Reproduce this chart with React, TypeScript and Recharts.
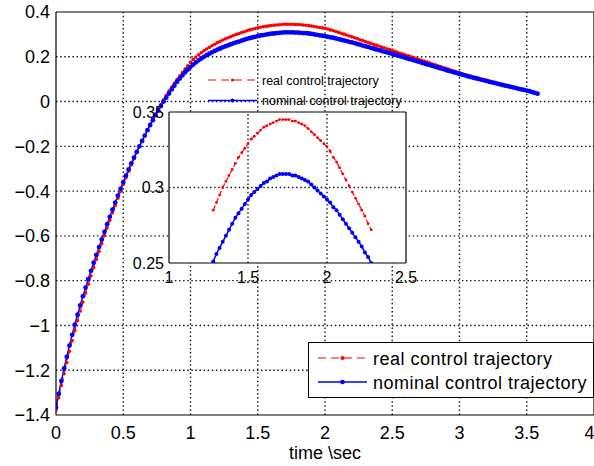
import React from 'react';
import { LineChart, Line, XAxis, YAxis, Legend, ReferenceLine } from 'recharts';

// Sampling interval of the simulated trajectories (seconds)
const SAMPLE_STEP = 0.02;

// Nominal control trajectory, one value per sample
const NOMINAL = [
  -1.366, -1.306, -1.248, -1.192, -1.14, -1.09, -1.042, -0.996, -0.952, -0.91,
  -0.87, -0.831, -0.793, -0.756, -0.72, -0.685, -0.65, -0.616, -0.582, -0.548,
  -0.515, -0.483, -0.451, -0.42, -0.39, -0.36, -0.331, -0.303, -0.276, -0.25,
  -0.225, -0.2, -0.176, -0.152, -0.128, -0.105, -0.083, -0.061, -0.04, -0.02,
  0.0, 0.018, 0.036, 0.054, 0.071, 0.088, 0.103, 0.117, 0.131, 0.143,
  0.155, 0.165, 0.175, 0.184, 0.192, 0.2, 0.207, 0.214, 0.22, 0.226,
  0.232, 0.237, 0.242, 0.247, 0.251, 0.256, 0.26, 0.264, 0.268, 0.272,
  0.276, 0.28, 0.283, 0.286, 0.289, 0.292, 0.295, 0.297, 0.299, 0.301,
  0.303, 0.304, 0.306, 0.307, 0.308, 0.309, 0.309, 0.309, 0.309, 0.308,
  0.308, 0.307, 0.306, 0.305, 0.304, 0.302, 0.3, 0.298, 0.296, 0.294,
  0.292, 0.29, 0.287, 0.285, 0.282, 0.279, 0.276, 0.273, 0.27, 0.267,
  0.264, 0.261, 0.257, 0.254, 0.25, 0.247, 0.244, 0.24, 0.237, 0.233,
  0.23, 0.227, 0.223, 0.22, 0.216, 0.213, 0.209, 0.206, 0.202, 0.199,
  0.195, 0.191, 0.188, 0.184, 0.181, 0.177, 0.173, 0.17, 0.166, 0.163,
  0.159, 0.155, 0.152, 0.148, 0.145, 0.141, 0.137, 0.134, 0.13, 0.127,
  0.123, 0.12, 0.117, 0.113, 0.11, 0.107, 0.104, 0.101, 0.098, 0.095,
  0.092, 0.089, 0.086, 0.083, 0.08, 0.077, 0.074, 0.071, 0.069, 0.066,
  0.063, 0.06, 0.057, 0.054, 0.052, 0.049, 0.046, 0.042, 0.039, 0.035,
];

// Real (applied) control trajectory, same sampling
const REAL = [
  -1.38, -1.323, -1.268, -1.216, -1.165, -1.115, -1.068, -1.023, -0.979, -0.936,
  -0.895, -0.855, -0.816, -0.778, -0.741, -0.705, -0.669, -0.634, -0.599, -0.564,
  -0.53, -0.497, -0.464, -0.432, -0.401, -0.37, -0.34, -0.311, -0.283, -0.255,
  -0.228, -0.201, -0.175, -0.15, -0.126, -0.102, -0.079, -0.056, -0.034, -0.013,
  0.008, 0.028, 0.047, 0.065, 0.082, 0.098, 0.114, 0.129, 0.145, 0.16,
  0.175, 0.188, 0.199, 0.209, 0.218, 0.227, 0.235, 0.242, 0.249, 0.256,
  0.263, 0.269, 0.275, 0.28, 0.285, 0.29, 0.295, 0.3, 0.304, 0.308,
  0.312, 0.316, 0.32, 0.323, 0.326, 0.329, 0.332, 0.334, 0.336, 0.338,
  0.34, 0.341, 0.342, 0.343, 0.344, 0.345, 0.345, 0.345, 0.345, 0.344,
  0.344, 0.343, 0.342, 0.341, 0.339, 0.337, 0.335, 0.333, 0.331, 0.329,
  0.327, 0.324, 0.32, 0.317, 0.313, 0.309, 0.305, 0.301, 0.297, 0.293,
  0.289, 0.285, 0.281, 0.276, 0.272, 0.268, 0.264, 0.26, 0.256, 0.252,
  0.248, 0.244, 0.24, 0.236, 0.232, 0.228, 0.224, 0.22, 0.216, 0.212,
  0.208, 0.204, 0.2, 0.196, 0.192, 0.188, 0.184, 0.18, 0.176, 0.172,
  0.168, 0.164, 0.16, 0.156, 0.152, 0.148, 0.144, 0.14, 0.136, 0.132,
  0.128, 0.124, 0.121, 0.117, 0.114, 0.11, 0.107, 0.104, 0.1, 0.097,
  0.094, 0.091, 0.088, 0.084, 0.081, 0.078, 0.075, 0.072, 0.069, 0.066,
  0.063, 0.06, 0.057, 0.054, 0.051, 0.048, 0.045, 0.042, 0.038, 0.035,
];

const MAIN_X_TICKS = [0, 0.5, 1, 1.5, 2, 2.5, 3, 3.5, 4];
const MAIN_Y_TICKS = [-1.4, -1.2, -1, -0.8, -0.6, -0.4, -0.2, 0, 0.2, 0.4];
const INSET_X_TICKS = [1, 1.5, 2, 2.5];
const INSET_Y_TICKS = [0.25, 0.3, 0.35];
const INSET_TIME_RANGE = [1.28, 2.28];

const REAL_LABEL = 'real control trajectory';
const NOMINAL_LABEL = 'nominal control trajectory';
const X_LABEL = 'time \\sec';

const rows = NOMINAL.map((v, i) => ({
  t: Number((i * SAMPLE_STEP).toFixed(2)),
  real: REAL[i],
  nominal: v,
}));
const insetRows = rows.filter((r) => r.t >= INSET_TIME_RANGE[0] - 1e-9 && r.t <= INSET_TIME_RANGE[1] + 1e-9);

const RED = '#ff0000';
const BLUE = '#0000ff';
const FONT = '"Liberation Sans", Arial, Helvetica, sans-serif';

const fmt = (v: number) => String(v).replace('-', '\u2212');
const inner = (ticks: number[]) => ticks.slice(1, -1);

const makeDot = (r: number, fill: string, tag: string) => (props: any) => {
  const { cx, cy, index } = props;
  if (cx == null || cy == null) return <g key={`${tag}${index}`} />;
  return <circle key={`${tag}${index}`} cx={cx} cy={cy} r={r} fill={fill} stroke="none" />;
};

// Dotted grid lines at every tick
const gridStyle = { stroke: '#1a1a1a', strokeDasharray: '1.5 2.6', strokeWidth: 1.4 } as any;

// Inset chart layout
const INSET_W = 320;
const INSET_H = 223;
const INSET_MARGIN = { top: 42, right: 24, bottom: 0, left: 0 };
const INSET_YAXIS_W = 59;
const INSET_XAXIS_H = 30;
const INSET_PLOT_W = INSET_W - INSET_MARGIN.left - INSET_MARGIN.right - INSET_YAXIS_W;
const INSET_PLOT_H = INSET_H - INSET_MARGIN.top - INSET_MARGIN.bottom - INSET_XAXIS_H;

function MainLegend() {
  return (
    <div style={{ width: 286, height: 56, boxSizing: 'border-box', border: '1px solid #000', background: '#fff' }}>
      <svg width={284} height={54} style={{ display: 'block' }}>
        <line x1={9} y1={15} x2={58} y2={15} stroke={RED} strokeWidth={1.2} strokeDasharray="8 5" />
        <circle cx={33.5} cy={15} r={2} fill={RED} />
        <text x={64} y={22} fontFamily={FONT} fontSize={18} letterSpacing={0.5} fill="#000">{REAL_LABEL}</text>
        <line x1={9} y1={39} x2={58} y2={39} stroke={BLUE} strokeWidth={1.5} />
        <circle cx={33.5} cy={39} r={2.3} fill={BLUE} />
        <text x={64} y={46} fontFamily={FONT} fontSize={18} letterSpacing={0.5} fill="#000">{NOMINAL_LABEL}</text>
      </svg>
    </div>
  );
}

function InsetLegend() {
  return (
    <svg width={215} height={42} style={{ display: 'block' }}>
      <line x1={13} y1={10} x2={62} y2={10} stroke={RED} strokeWidth={1.2} strokeDasharray="8 5" />
      <circle cx={37.5} cy={10} r={1.6} fill={RED} />
      <text x={67} y={15} fontFamily={FONT} fontSize={12.5} fill="#000">{REAL_LABEL}</text>
      <line x1={13} y1={30.5} x2={62} y2={30.5} stroke={BLUE} strokeWidth={1.5} />
      <circle cx={37.5} cy={30.5} r={2} fill={BLUE} />
      <text x={67} y={35} fontFamily={FONT} fontSize={12.5} fill="#000">{NOMINAL_LABEL}</text>
    </svg>
  );
}

const axisStroke = { stroke: '#000', strokeWidth: 1.2 };

export default function App() {
  return (
    <div style={{ position: 'absolute', left: 0, top: 0, width: 594, height: 466, overflow: 'hidden', background: '#fff' }}>
      <div style={{ position: 'absolute', left: 0, top: 0 }}>
        <LineChart width={594} height={466} data={rows} margin={{ top: 12, right: 0, bottom: 0, left: 0 }}>
          <XAxis
            xAxisId="x"
            type="number"
            dataKey="t"
            domain={[0, 4]}
            ticks={MAIN_X_TICKS}
            allowDataOverflow
            height={51}
            tickLine={false}
            tickSize={0}
            tickMargin={11}
            axisLine={axisStroke}
            tick={{ fill: '#000', fontSize: 18, fontFamily: FONT }}
            label={{ value: X_LABEL, position: 'insideBottom', offset: 7, fill: '#000', fontSize: 18, fontFamily: FONT }}
          />
          <XAxis xAxisId="xIn" type="number" domain={[0, 4]} ticks={MAIN_X_TICKS} allowDataOverflow mirror height={1}
            tick={false} tickSize={5} tickLine={axisStroke} axisLine={false} />
          <XAxis xAxisId="xTop" orientation="top" type="number" domain={[0, 4]} ticks={MAIN_X_TICKS} allowDataOverflow mirror height={1}
            tick={false} tickSize={5} tickLine={axisStroke} axisLine={axisStroke} />
          <YAxis
            yAxisId="y"
            type="number"
            domain={[-1.4, 0.4]}
            ticks={MAIN_Y_TICKS}
            allowDataOverflow
            width={56}
            tickLine={false}
            tickSize={0}
            tickMargin={6}
            axisLine={axisStroke}
            tickFormatter={fmt}
            tick={{ fill: '#000', fontSize: 18, fontFamily: FONT }}
          />
          <YAxis yAxisId="yIn" type="number" domain={[-1.4, 0.4]} ticks={MAIN_Y_TICKS} allowDataOverflow mirror width={1}
            tick={false} tickSize={5} tickLine={axisStroke} axisLine={false} />
          <YAxis yAxisId="yRight" orientation="right" type="number" domain={[-1.4, 0.4]} ticks={MAIN_Y_TICKS} allowDataOverflow mirror width={1}
            tick={false} tickSize={5} tickLine={axisStroke} axisLine={axisStroke} />
          {inner(MAIN_X_TICKS).map((v) => (
            <ReferenceLine key={`gx${v}`} xAxisId="x" yAxisId="y" x={v} ifOverflow="visible" {...gridStyle} />
          ))}
          {inner(MAIN_Y_TICKS).map((v) => (
            <ReferenceLine key={`gy${v}`} xAxisId="x" yAxisId="y" y={v} ifOverflow="visible" {...gridStyle} />
          ))}
          <Line xAxisId="x" yAxisId="y" dataKey="real" name={REAL_LABEL} stroke={RED} strokeWidth={1.2}
            strokeDasharray="8 5" dot={makeDot(1.8, RED, 'r')} isAnimationActive={false} />
          <Line xAxisId="x" yAxisId="y" dataKey="nominal" name={NOMINAL_LABEL} stroke={BLUE} strokeWidth={1.5}
            dot={makeDot(2.4, BLUE, 'n')} isAnimationActive={false} />
          <Legend layout="vertical" align="center" verticalAlign="middle"
            wrapperStyle={{ position: 'absolute', left: 308, top: 342, width: 286, height: 56 }}
            content={() => <MainLegend />} />
        </LineChart>
      </div>

      <div style={{ position: 'absolute', left: 110, top: 70, width: INSET_W, height: INSET_H }}>
        {/* opaque panel behind the inset plot box */}
        <div
          style={{
            position: 'absolute',
            left: INSET_MARGIN.left + INSET_YAXIS_W,
            top: INSET_MARGIN.top,
            width: INSET_PLOT_W,
            height: INSET_PLOT_H,
            background: '#fff',
          }}
        />
        <div style={{ position: 'absolute', left: 0, top: 0 }}>
          <LineChart width={INSET_W} height={INSET_H} data={insetRows} margin={INSET_MARGIN}>
            <XAxis
              xAxisId="ix"
              type="number"
              dataKey="t"
              domain={[1, 2.5]}
              ticks={INSET_X_TICKS}
              allowDataOverflow
              height={INSET_XAXIS_H}
              tickLine={false}
              tickSize={0}
              tickMargin={9}
              axisLine={axisStroke}
              tick={{ fill: '#000', fontSize: 16, fontFamily: FONT }}
            />
            <XAxis xAxisId="ixIn" type="number" domain={[1, 2.5]} ticks={INSET_X_TICKS} allowDataOverflow mirror height={1}
              tick={false} tickSize={3} tickLine={axisStroke} axisLine={false} />
            <XAxis xAxisId="ixTop" orientation="top" type="number" domain={[1, 2.5]} ticks={INSET_X_TICKS} allowDataOverflow mirror height={1}
              tick={false} tickSize={3} tickLine={axisStroke} axisLine={axisStroke} />
            <YAxis
              yAxisId="iy"
              type="number"
              domain={[0.25, 0.35]}
              ticks={INSET_Y_TICKS}
              allowDataOverflow
              width={INSET_YAXIS_W}
              tickLine={false}
              tickSize={0}
              tickMargin={5}
              axisLine={axisStroke}
              tick={{ fill: '#000', fontSize: 16, fontFamily: FONT }}
            />
            <YAxis yAxisId="iyIn" type="number" domain={[0.25, 0.35]} ticks={INSET_Y_TICKS} allowDataOverflow mirror width={1}
              tick={false} tickSize={3} tickLine={axisStroke} axisLine={false} />
            <YAxis yAxisId="iyRight" orientation="right" type="number" domain={[0.25, 0.35]} ticks={INSET_Y_TICKS} allowDataOverflow mirror width={1}
              tick={false} tickSize={3} tickLine={axisStroke} axisLine={axisStroke} />
            {inner(INSET_X_TICKS).map((v) => (
              <ReferenceLine key={`igx${v}`} xAxisId="ix" yAxisId="iy" x={v} ifOverflow="visible" {...gridStyle} />
            ))}
            {inner(INSET_Y_TICKS).map((v) => (
              <ReferenceLine key={`igy${v}`} xAxisId="ix" yAxisId="iy" y={v} ifOverflow="visible" {...gridStyle} />
            ))}
            <Line xAxisId="ix" yAxisId="iy" dataKey="real" name={REAL_LABEL} stroke={RED} strokeWidth={1.2}
              strokeDasharray="5 3" dot={makeDot(1.4, RED, 'ir')} isAnimationActive={false} />
            <Line xAxisId="ix" yAxisId="iy" dataKey="nominal" name={NOMINAL_LABEL} stroke={BLUE} strokeWidth={1.5}
              dot={makeDot(2, BLUE, 'in')} isAnimationActive={false} />
            <Legend layout="vertical" align="center" verticalAlign="middle"
              wrapperStyle={{ position: 'absolute', left: 85, top: 0, width: 215, height: 42 }}
              content={() => <InsetLegend />} />
          </LineChart>
        </div>
      </div>
    </div>
  );
}
